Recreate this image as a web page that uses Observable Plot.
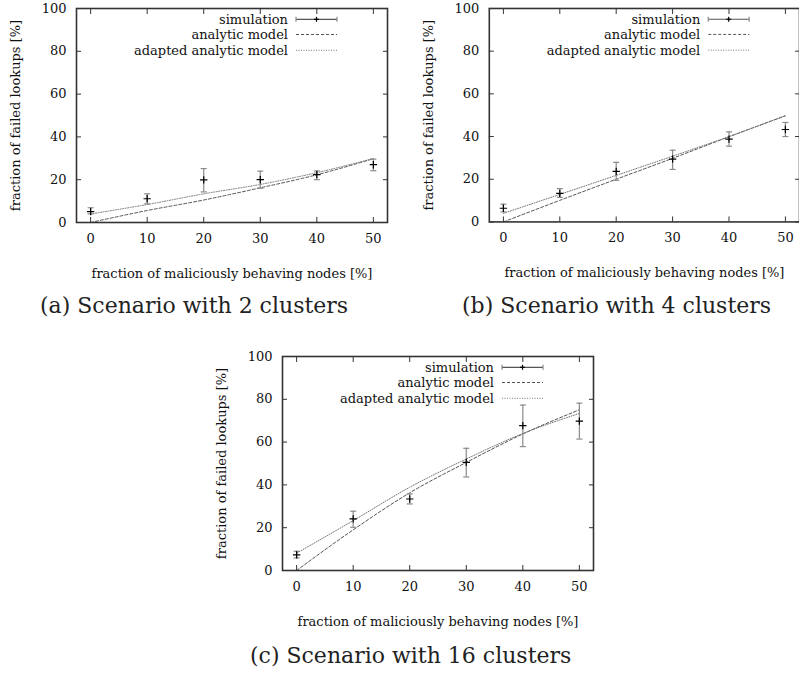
<!DOCTYPE html>
<html>
<head>
<meta charset="utf-8">
<script src="https://cdn.jsdelivr.net/npm/d3@7"></script>
<script src="https://cdn.jsdelivr.net/npm/@observablehq/plot@0.6"></script>
<style>
  html, body { margin: 0; padding: 0; background: #fff; }
  body { width: 799px; height: 673px; overflow: hidden; position: relative; }
  .panel { position: absolute; }
  .cap { position: absolute; font-family: "DejaVu Serif", serif; font-size: 22px; line-height: 22px;
         color: #222; text-align: center; white-space: nowrap; }
</style>
</head>
<body>
<div id="pa" class="panel" style="left:0px;top:0px"></div>
<div id="pb" class="panel" style="left:413px;top:0px"></div>
<div id="pc" class="panel" style="left:206px;top:348px"></div>
<div class="cap" style="left:40px;width:300px;top:295px">(a) Scenario with 2 clusters</div>
<div class="cap" style="left:462px;width:300px;top:295px">(b) Scenario with 4 clusters</div>
<div class="cap" style="left:250px;width:300px;top:645px">(c) Scenario with 16 clusters</div>
<script>
// ---- data ----
const xs = [0, 10, 20, 30, 40, 50];
const xTicks = [0, 10, 20, 30, 40, 50];
const yTicks = [0, 20, 40, 60, 80, 100];
const xLabel = "fraction of maliciously behaving nodes [%]";
const yLabel = "fraction of failed lookups [%]";
const legendLabels = ["simulation", "analytic model", "adapted analytic model"];

// (a) 2 clusters
const simA = [5.1, 11.1, 19.9, 20.0, 22.4, 27.0];
const loA = [4.0, 8.7, 14.3, 16.0, 20.0, 24.2];
const hiA = [6.9, 13.4, 25.2, 24.0, 24.1, 29.6];
const analyticA = [0, 5.6, 10.5, 16.2, 22.3, 29.8];
const adaptedA = [4.0, 8.4, 13.4, 17.8, 23.3, 29.9];

// (b) 4 clusters
const simB = [6.4, 13.4, 23.7, 29.4, 38.8, 43.3];
const loB = [4.7, 11.5, 19.5, 24.6, 35.5, 40.0];
const hiB = [8.3, 15.6, 27.9, 33.6, 42.2, 46.6];
const analyticB = [0, 10.1, 20.0, 29.8, 39.9, 49.7];
const adaptedB = [4.0, 12.9, 21.8, 30.8, 40.0, 49.8];

// (c) 16 clusters
const simC = [7.3, 24.1, 33.4, 50.5, 67.7, 69.8];
const loC = [5.9, 20.2, 31.1, 43.7, 57.9, 61.4];
const hiC = [9.0, 27.7, 35.8, 57.1, 77.3, 78.2];
const analyticC = [0, 19.0, 36.3, 50.5, 63.8, 75.1];
const adaptedC = [8.1, 23.3, 38.9, 52.1, 64.0, 73.4];

// ---- drawing ----
const capSymbol = { draw(ctx, size) { ctx.moveTo(-3, 0); ctx.lineTo(3, 0); } };
const barColor = "#8a8a8a";

function panel(el, width, marginRight, sim, lo, hi, analytic, adapted) {
  const rows = xs.map((x, i) => ({x, sim: sim[i], lo: lo[i], hi: hi[i], an: analytic[i], ad: adapted[i]}));
  const marginLeft = 76, marginTop = 8, marginBottom = 68, height = 290;
  const plot = Plot.plot({
    width, height, marginLeft, marginRight, marginTop, marginBottom,
    x: {domain: [-2.5, 52.5]},
    y: {domain: [0, 100]},
    style: {fontFamily: "DejaVu Serif", fontSize: "13px", color: "#111", background: "transparent", overflow: "visible"},
    marks: [
      Plot.line(rows, {x: "x", y: "an", curve: "monotone-x", stroke: "#555", strokeWidth: 1, strokeDasharray: "3,2"}),
      Plot.line(rows, {x: "x", y: "ad", curve: "monotone-x", stroke: "#777", strokeWidth: 1, strokeDasharray: "1,1.5"}),
      Plot.ruleX(rows, {x: "x", y1: "lo", y2: "hi", stroke: barColor, strokeWidth: 1.2}),
      Plot.dot(rows, {x: "x", y: "lo", symbol: capSymbol, stroke: barColor, strokeWidth: 1.2, r: 3}),
      Plot.dot(rows, {x: "x", y: "hi", symbol: capSymbol, stroke: barColor, strokeWidth: 1.2, r: 3}),
      Plot.dot(rows, {x: "x", y: "sim", symbol: "plus", stroke: "#000", strokeWidth: 1.2, r: 2.5}),
      Plot.axisX({anchor: "bottom", ticks: xTicks, tickSize: 0, tickPadding: 11, label: null}),
      Plot.axisX({anchor: "bottom", ticks: xTicks, tickSize: -5, fill: "none", label: null, stroke: "#333"}),
      Plot.axisX({anchor: "top", ticks: xTicks, tickSize: -5, fill: "none", label: null, stroke: "#333"}),
      Plot.axisY({anchor: "left", ticks: yTicks, tickSize: 0, tickPadding: 10, label: null}),
      Plot.axisY({anchor: "left", ticks: yTicks, tickSize: -5, fill: "none", label: null, stroke: "#333"}),
      Plot.axisY({anchor: "right", ticks: yTicks, tickSize: -5, fill: "none", label: null, stroke: "#333"}),
      Plot.frame({stroke: "#333", strokeWidth: 1.6}),
      Plot.text([xLabel], {frameAnchor: "bottom", dy: 55, text: d => d, fill: "#111", textAnchor: "middle"}),
      Plot.text([yLabel], {frameAnchor: "left", rotate: -90, dx: -61, text: d => d, fill: "#111", textAnchor: "middle", lineAnchor: "middle"})
    ]
  });
  // legend
  const svg = d3.select(plot);
  const right = width - marginRight;
  const rowsY = [marginTop + 11.3, marginTop + 26.5, marginTop + 42.3];
  const g = svg.append("g").attr("font-family", "DejaVu Serif").attr("font-size", 13);
  legendLabels.forEach((lab, i) => {
    g.append("text").attr("x", right - 99).attr("y", rowsY[i]).attr("dy", "0.35em")
      .attr("text-anchor", "end").attr("fill", "#111").text(lab);
  });
  const x1 = right - 91, x2 = right - 50, xm = (x1 + x2) / 2;
  g.append("line").attr("x1", x1).attr("x2", x2).attr("y1", rowsY[0]).attr("y2", rowsY[0]).attr("stroke", "#555").attr("stroke-width", 1.2);
  [x1, x2].forEach(x => g.append("line").attr("x1", x).attr("x2", x).attr("y1", rowsY[0] - 2.5).attr("y2", rowsY[0] + 2.5).attr("stroke", barColor).attr("stroke-width", 1.2));
  g.append("line").attr("x1", xm - 2.5).attr("x2", xm + 2.5).attr("y1", rowsY[0]).attr("y2", rowsY[0]).attr("stroke", "#000").attr("stroke-width", 1.2);
  g.append("line").attr("x1", xm).attr("x2", xm).attr("y1", rowsY[0] - 2.5).attr("y2", rowsY[0] + 2.5).attr("stroke", "#000").attr("stroke-width", 1.2);
  g.append("line").attr("x1", x1).attr("x2", x2).attr("y1", rowsY[1]).attr("y2", rowsY[1]).attr("stroke", "#555").attr("stroke-width", 1).attr("stroke-dasharray", "3,2");
  g.append("line").attr("x1", x1).attr("x2", x2).attr("y1", rowsY[2]).attr("y2", rowsY[2]).attr("stroke", "#777").attr("stroke-width", 1).attr("stroke-dasharray", "1,1.5");
  document.getElementById(el).appendChild(plot);
}

panel("pa", 395, 8, simA, loA, hiA, analyticA, adaptedA);
panel("pb", 387, 0, simB, loB, hiB, analyticB, adaptedB);
panel("pc", 395, 8, simC, loC, hiC, analyticC, adaptedC);
</script>
</body>
</html>
